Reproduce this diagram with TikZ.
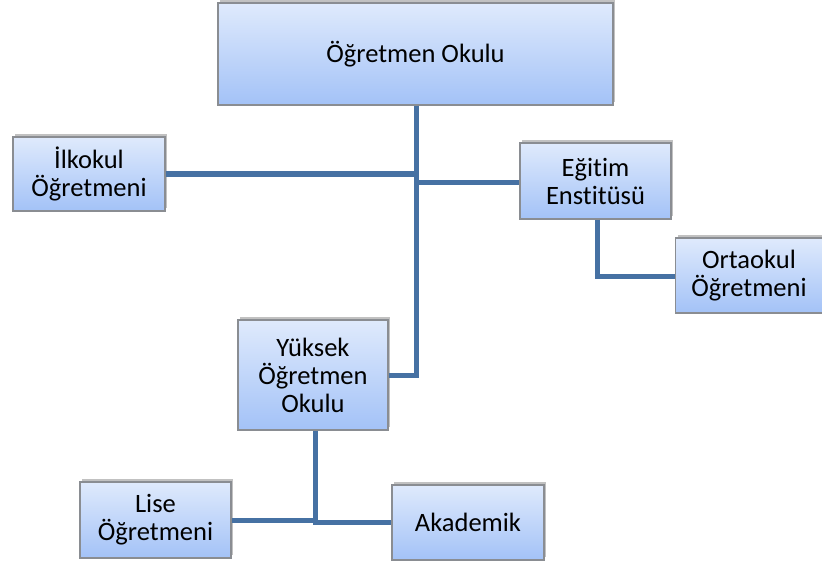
\documentclass[tikz,border=0pt]{standalone}
\usepackage{fontspec}
\setmainfont[Ligatures=NoCommon]{Carlito}
\usetikzlibrary{shadows}
\definecolor{boxtop}{HTML}{DFEAFC}
\definecolor{boxbot}{HTML}{A3C2F7}
\definecolor{boxline}{HTML}{8A8D92}
\definecolor{conn}{HTML}{4671A3}
\tikzset{
  orgbox/.style={draw=boxline, line width=1.2pt, top color=boxtop, bottom color=boxbot,
    align=center, inner sep=0pt, font=\fontsize{26.5}{28}\selectfont,
    drop shadow={shadow xshift=2pt, shadow yshift=3pt, opacity=0.35, fill=black!70}},
  link/.style={draw=conn, line width=5pt, line join=miter}
}
\begin{document}
\begin{tikzpicture}[x=1pt,y=-1pt]
\useasboundingbox (0,0) rectangle (822,567);
\node[orgbox, minimum width=395pt, minimum height=102pt] (top) at (415.5,54) {Öğretmen Okulu};
\node[orgbox, minimum width=152pt, minimum height=74pt] (ilk) at (89,174) {İlkokul\\Öğretmeni};
\node[orgbox, minimum width=151pt, minimum height=76pt] (egt) at (595.5,181) {Eğitim\\Enstitüsü};
\node[orgbox, minimum width=147pt, minimum height=75pt] (ort) at (749,275.5) {Ortaokul\\Öğretmeni};
\node[orgbox, minimum width=150pt, minimum height=110pt] (yuk) at (313,375) {Yüksek\\Öğretmen\\Okulu};
\node[orgbox, minimum width=151pt, minimum height=76pt] (lise) at (155.5,520) {Lise\\Öğretmeni};
\node[orgbox, minimum width=152pt, minimum height=75pt] (aka) at (468,522.5) {Akademik};
\coordinate (j1) at (416,174);
\coordinate (j2) at (416,182);
\coordinate (j3) at (416,375);
\coordinate (j4) at (597,276);
\coordinate (j5) at (315,520);
\coordinate (j6) at (315,522);
\draw[link] (top.south -| j3) -- (j3) -- (yuk.east |- j3);
\draw[link] (ilk.east |- j1) -- (j1);
\draw[link] (j2) -- (egt.west |- j2);
\draw[link] (egt.south -| j4) -- (j4) -- (ort.west |- j4);
\draw[link] (yuk.south -| j5) -- (j5) -- (lise.east |- j5);
\draw[link] (j5) -- (j6) -- (aka.west |- j6);
\end{tikzpicture}
\end{document}
